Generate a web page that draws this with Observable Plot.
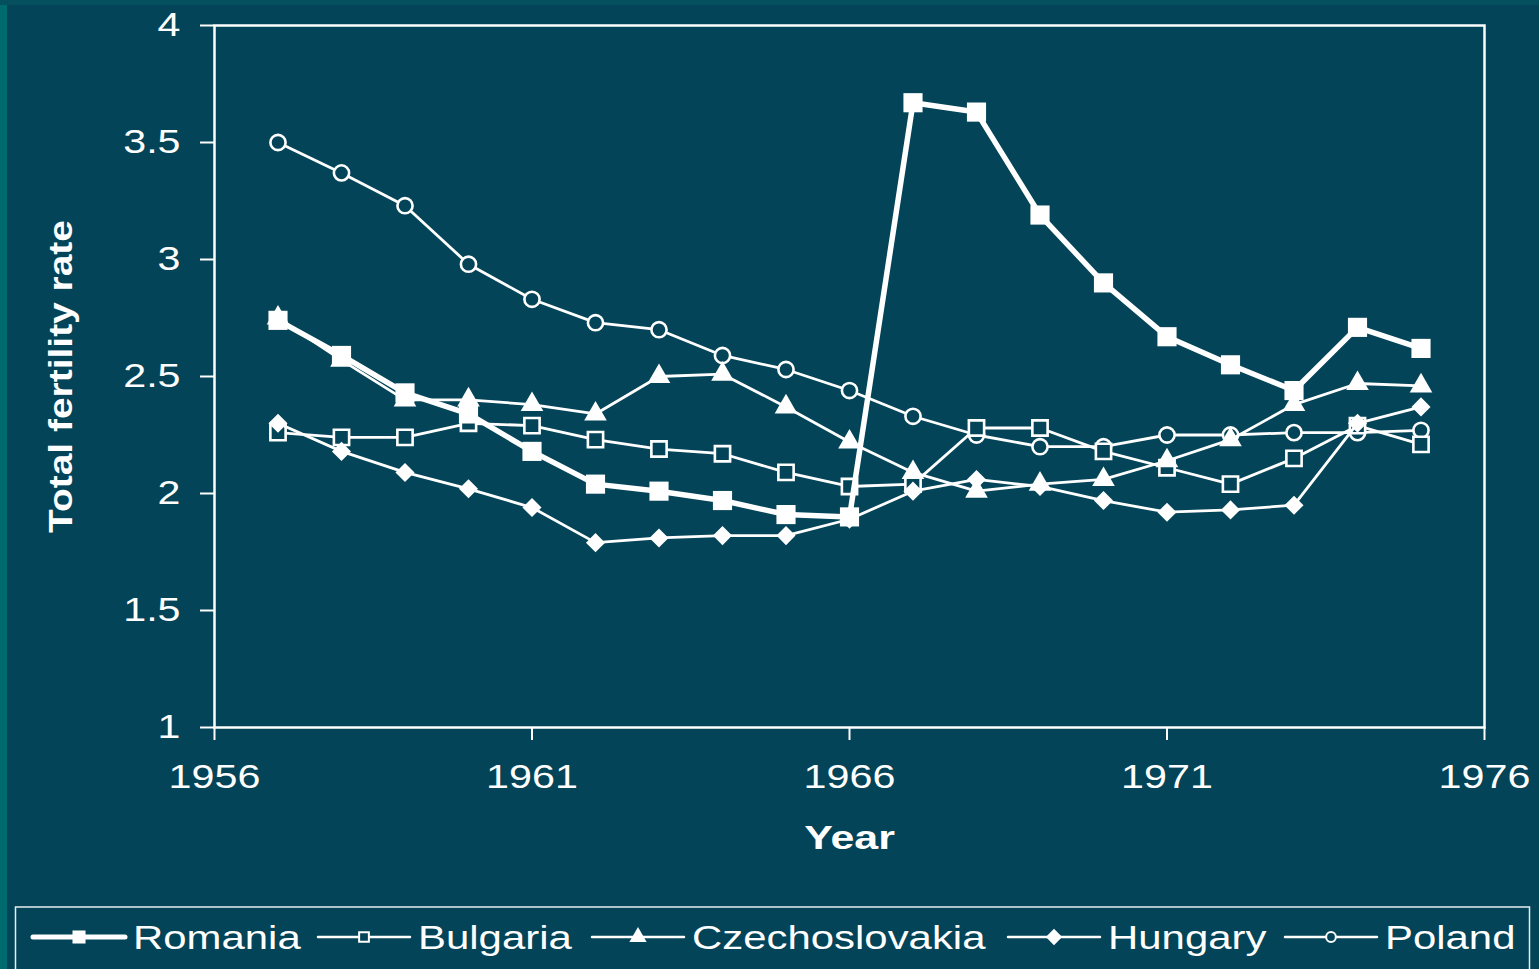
<!DOCTYPE html>
<html><head><meta charset="utf-8">
<script src="https://cdn.jsdelivr.net/npm/d3@7"></script>
<script src="https://cdn.jsdelivr.net/npm/@observablehq/plot@0.6"></script>
<style>
html,body{margin:0;padding:0;background:#034458;width:1539px;height:969px;overflow:hidden;}
#strip-left{position:absolute;left:0;top:0;width:7px;height:969px;background:#006B6E;}
#strip-top{position:absolute;left:0;top:0;width:1539px;height:5px;background:#04505F;}
#chart{position:absolute;left:0;top:0;}
#legend{position:absolute;left:0;top:890px;}
</style></head><body>
<div id="strip-left"></div><div id="strip-top"></div>
<div id="chart"></div><div id="legend"></div>
<script>
// ---- data ----
const years    = [1957,1958,1959,1960,1961,1962,1963,1964,1965,1966,1967,1968,1969,1970,1971,1972,1973,1974,1975];
const romania  = [2.74,2.59,2.43,2.34,2.18,2.04,2.01,1.97,1.91,1.90,3.67,3.63,3.19,2.90,2.67,2.55,2.44,2.71,2.62];
const bulgaria = [2.26,2.24,2.24,2.30,2.29,2.23,2.19,2.17,2.09,2.03,2.04,2.28,2.28,2.18,2.11,2.04,2.15,2.29,2.21];
const czechoslovakia = [2.75,2.57,2.40,2.40,2.38,2.34,2.50,2.51,2.37,2.22,2.09,2.01,2.04,2.06,2.14,2.23,2.38,2.47,2.46];
const hungary  = [2.30,2.18,2.09,2.02,1.94,1.79,1.81,1.82,1.82,1.89,2.01,2.06,2.03,1.97,1.92,1.93,1.95,2.30,2.37];
const poland   = [3.50,3.37,3.23,2.98,2.83,2.73,2.70,2.59,2.53,2.44,2.33,2.25,2.20,2.20,2.25,2.25,2.26,2.26,2.27];
const seriesNames = ["Romania","Bulgaria","Czechoslovakia","Hungary","Poland"];
const xTicks = [1956,1961,1966,1971,1976];
const yTicks = [1,1.5,2,2.5,3,3.5,4];
const xLabel = "Year";
const yLabel = "Total fertility rate";

// ---- styles ----
const BG = "#034458";
const styles = {
  Romania:        {values: romania,        symbol:"square",   r:10.8, sw:5.5, fill:"white", stroke:"none",  d3sym:d3.symbolSquare,   lsize:170, lfill:"white"},
  Bulgaria:       {values: bulgaria,       symbol:"square",   r:8.6,  sw:2.8, fill:BG,      stroke:"white", d3sym:d3.symbolSquare,   lsize:95,  lfill:BG},
  Czechoslovakia: {values: czechoslovakia, symbol:"triangle", r:8.4,  sw:2.8, fill:"white", stroke:"none",  d3sym:d3.symbolTriangle, lsize:130, lfill:"white"},
  Hungary:        {values: hungary,        symbol:"diamond2", r:8.6,  sw:2.8, fill:"white", stroke:"none",  d3sym:d3.symbolDiamond2, lsize:170, lfill:"white"},
  Poland:         {values: poland,         symbol:"circle",   r:7.6,  sw:2.8, fill:BG,      stroke:"white", d3sym:d3.symbolCircle,   lsize:75,  lfill:BG}
};

const drawOrder = ["Poland","Bulgaria","Czechoslovakia","Hungary","Romania"];
const marks = [
  Plot.frame({stroke:"white", strokeWidth:2.5}),
  Plot.axisX({ticks:xTicks, tickSize:13, tickPadding:24, tickFormat:d=>String(d), label:null, fontSize:33, strokeWidth:2}),
  Plot.axisY({ticks:yTicks, tickSize:14, tickPadding:20, tickFormat:d=>String(d), label:null, fontSize:33, strokeWidth:2}),
  Plot.text([xLabel], {text:d=>d, frameAnchor:"bottom", dy:111, lineAnchor:"middle", fontWeight:"bold", fontSize:33, fill:"white"}),
  Plot.text([yLabel], {text:d=>d, frameAnchor:"left", dx:-153, rotate:-90, lineAnchor:"middle", fontWeight:"bold", fontSize:33, fill:"white"})
];
for (const name of drawOrder) {
  const s = styles[name];
  const data = years.map((y,i)=>({year:y, value:s.values[i]}));
  marks.push(Plot.line(data, {x:"year", y:"value", stroke:"white", strokeWidth:s.sw, strokeLinejoin:"round"}));
  marks.push(Plot.dot(data, {x:"year", y:"value", symbol:s.symbol, r:s.r, fill:s.fill, stroke:s.stroke, strokeWidth:2.6}));
}

const plot = Plot.plot({
  width:1539, height:890,
  marginLeft:214, marginRight:55, marginTop:25, marginBottom:163,
  x:{domain:[1956,1976]},
  y:{domain:[1,4]},
  style:{background:"transparent", color:"white", fontFamily:"'Liberation Sans', Arial, sans-serif", fontSize:"33px"},
  marks
});
document.getElementById("chart").appendChild(plot);

function stretch(root, factor, special) {
  root.querySelectorAll("text").forEach(t => {
    const L = t.getComputedTextLength();
    if (!L) return;
    const f = (special && special[t.textContent]) || factor;
    const len = L*f;
    t.setAttribute("textLength", len.toFixed(1));
    t.setAttribute("lengthAdjust", "spacingAndGlyphs");
    if (t.textContent === yLabel) {
      t.setAttribute("text-anchor", "start");
      t.style.textAnchor = "start";
      t.setAttribute("x", (-len/2).toFixed(1));
    }
  });
}
stretch(plot, 1.25, {[yLabel]:1.18, [xLabel]:1.3});

// ---- legend ----
const legendX = [33, 318, 592, 1008, 1285];
const lg = d3.create("svg").attr("width",1539).attr("height",79)
  .style("font-family","'Liberation Sans', Arial, sans-serif");
lg.append("rect").attr("x",15.5).attr("y",17).attr("width",1514).attr("height",100)
  .attr("fill","none").attr("stroke","#e8eef0").attr("stroke-width",1.5);
seriesNames.forEach((name,i)=>{
  const s = styles[name], x0 = legendX[i], cy = 47;
  lg.append("line").attr("x1",x0).attr("x2",x0+92).attr("y1",cy).attr("y2",cy)
    .attr("stroke","white").attr("stroke-width",name==="Romania"?5:2.5).attr("stroke-linecap","round");
  lg.append("path").attr("d", d3.symbol(s.d3sym, s.lsize)())
    .attr("transform",`translate(${x0+46},${cy})`)
    .attr("fill",s.lfill).attr("stroke",s.stroke==="none"?"none":"white").attr("stroke-width",2);
  lg.append("text").attr("x",x0+100).attr("y",cy).attr("dy","0.36em")
    .attr("fill","white").attr("font-size",33).text(name);
});
document.getElementById("legend").appendChild(lg.node());
stretch(lg.node(), 1.27);
</script>
</body></html>
